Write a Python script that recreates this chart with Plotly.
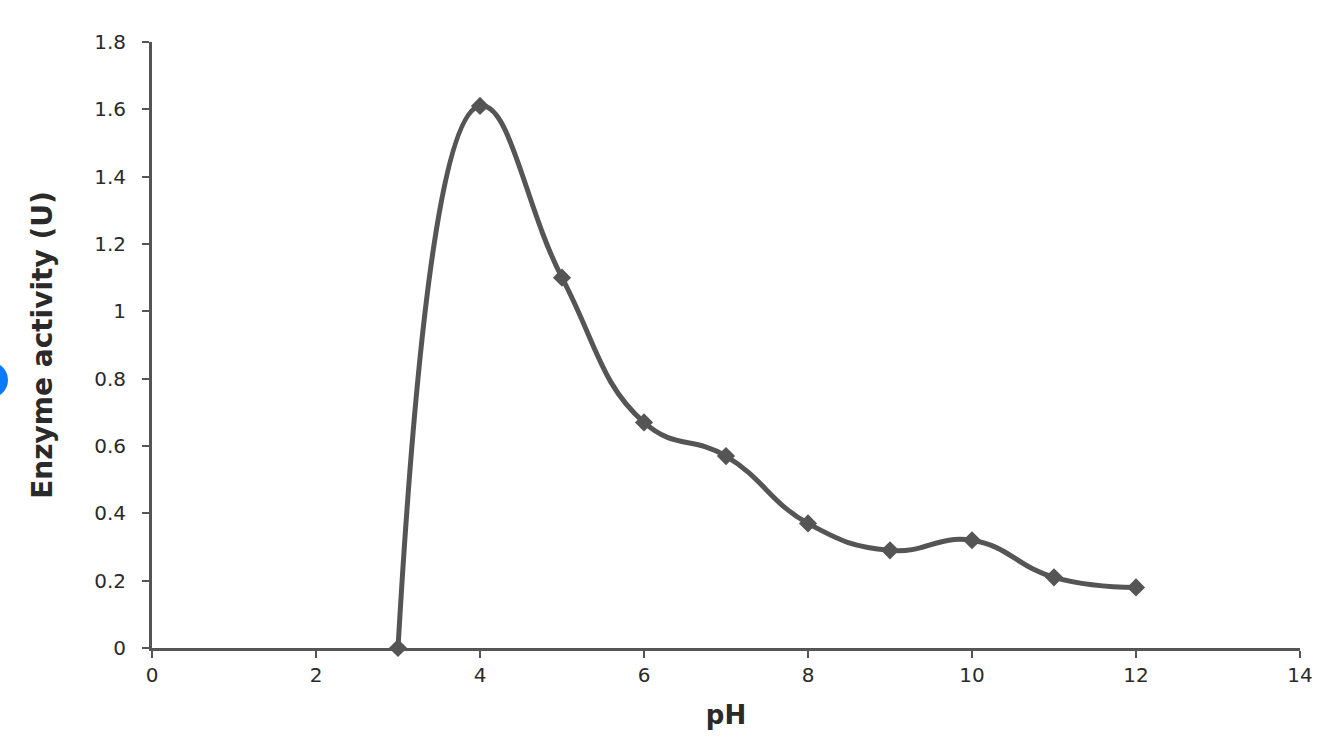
import plotly.graph_objects as go

ph = [3, 4, 5, 6, 7, 8, 9, 10, 11, 12]
activity = [0.0, 1.61, 1.10, 0.67, 0.57, 0.37, 0.29, 0.32, 0.21, 0.18]

x_ticks = [0, 2, 4, 6, 8, 10, 12, 14]
y_ticks = [0, 0.2, 0.4, 0.6, 0.8, 1.0, 1.2, 1.4, 1.6, 1.8]
y_tick_text = ["0", "0.2", "0.4", "0.6", "0.8", "1", "1.2", "1.4", "1.6", "1.8"]

LINE = "#555555"
AXIS = "#555555"
TEXT = "#2a2a2a"
FONT = "DejaVu Sans"

fig = go.Figure()
fig.add_trace(go.Scatter(
    x=ph, y=activity, mode="lines+markers",
    line=dict(color=LINE, width=5, shape="spline", smoothing=1.3),
    marker=dict(symbol="diamond", size=14, color=LINE),
    showlegend=False, cliponaxis=False,
))

fig.update_layout(
    width=1334, height=749,
    margin=dict(l=152, r=34, t=42, b=101),
    paper_bgcolor="white", plot_bgcolor="white",
    font=dict(family=FONT, color=TEXT, size=20),
    xaxis=dict(
        range=[0, 14], tickvals=x_ticks, ticktext=[str(v) for v in x_ticks],
        showgrid=False, zeroline=False,
        showline=True, linecolor=AXIS, linewidth=3,
        ticks="outside", ticklen=7, tickwidth=2, tickcolor=AXIS,
        tickfont=dict(family=FONT, size=20, color=TEXT),
        title=dict(text="<b>pH</b>", font=dict(family=FONT, size=26, color=TEXT), standoff=20),
    ),
    yaxis=dict(
        range=[0, 1.8], tickvals=y_ticks, ticktext=y_tick_text,
        showgrid=False, zeroline=False,
        showline=True, linecolor=AXIS, linewidth=3,
        ticks="outside", ticklen=7, tickwidth=2, tickcolor=AXIS,
        ticklabelstandoff=12,
        tickfont=dict(family=FONT, size=20, color=TEXT),
        title=dict(text="<b>Enzyme activity (U)</b>", font=dict(family=FONT, size=28, color=TEXT), standoff=34),
    ),
)

# blue circular mark partially cut off at the left edge of the image
fig.add_shape(
    type="circle", xref="paper", yref="paper",
    x0=(-28 - 152) / 1148, x1=(8 - 152) / 1148,
    y0=(648 - 398) / 606, y1=(648 - 362) / 606,
    fillcolor="#0a7bff", line=dict(width=0), layer="above",
)

fig.write_html(
    "out.html",
    config={"displayModeBar": False},
    post_script="document.body.style.margin='0px';",
)
